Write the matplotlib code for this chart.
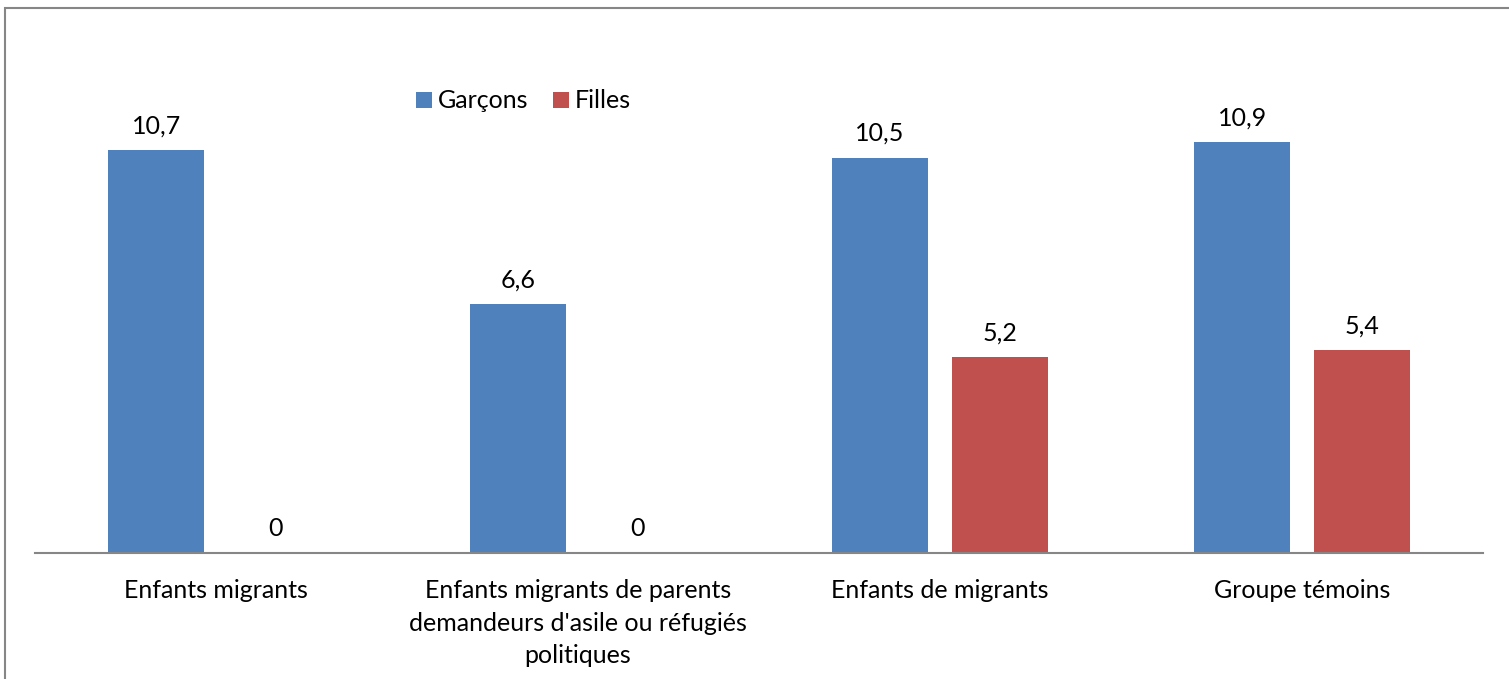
import matplotlib.pyplot as plt
import matplotlib.patches as mpatches
import numpy as np

categories = [
    "Enfants migrants",
    "Enfants migrants de parents\ndemandeurs d'asile ou réfugiés\npolitiques",
    "Enfants de migrants",
    "Groupe témoins",
]
garcons = [10.7, 6.6, 10.5, 10.9]
filles = [0, 0, 5.2, 5.4]
series_names = ["Garçons", "Filles"]

BLUE = '#4F81BD'
RED = '#C0504D'

plt.rcParams['font.family'] = ['Lato', 'DejaVu Sans']

W, H = 1509, 679
fig = plt.figure(figsize=(W / 100, H / 100), dpi=100)

# outer chart border (only left and top edges fall inside the image)
fig.patches.append(mpatches.Rectangle(
    (5 / W, -0.1), 1.2, (H - 8) / H + 0.1, transform=fig.transFigure,
    fill=False, edgecolor='#868686', linewidth=1.5))

ax = fig.add_axes([35 / W, (H - 553) / H, (1483 - 35) / W, (553 - 101) / H])

x = np.arange(len(categories))
bw = 0.265
offset = bw / 2 + 0.033

b1 = ax.bar(x - offset, garcons, bw, color=BLUE, label=series_names[0])
b2 = ax.bar(x + offset, filles, bw, color=RED, label=series_names[1])

for bars in (b1, b2):
    for rect in bars:
        v = rect.get_height()
        ax.annotate(f"{v:g}".replace('.', ','),
                    xy=(rect.get_x() + rect.get_width() / 2, v),
                    xytext=(0, 9), textcoords='offset points',
                    ha='center', va='bottom', fontsize=18, color='#000000')

ax.set_xlim(-0.5, len(categories) - 0.5)
ax.set_ylim(0, 12)
ax.set_xticks(x)
ax.set_xticklabels(categories, fontsize=18, linespacing=1.5)
ax.tick_params(axis='x', length=0, pad=19)
ax.set_yticks([])
for side in ('top', 'right', 'left'):
    ax.spines[side].set_visible(False)
ax.spines['bottom'].set_color('#868686')
ax.spines['bottom'].set_linewidth(1.5)

ax.legend(loc='center left', bbox_to_anchor=(381 / (1483 - 35), 1.0),
          ncol=2, frameon=False, fontsize=18, handlelength=0.62,
          handleheight=0.62, handletextpad=0.25, columnspacing=1.0,
          borderpad=0, borderaxespad=0)

fig.savefig('out.png', dpi=100)
